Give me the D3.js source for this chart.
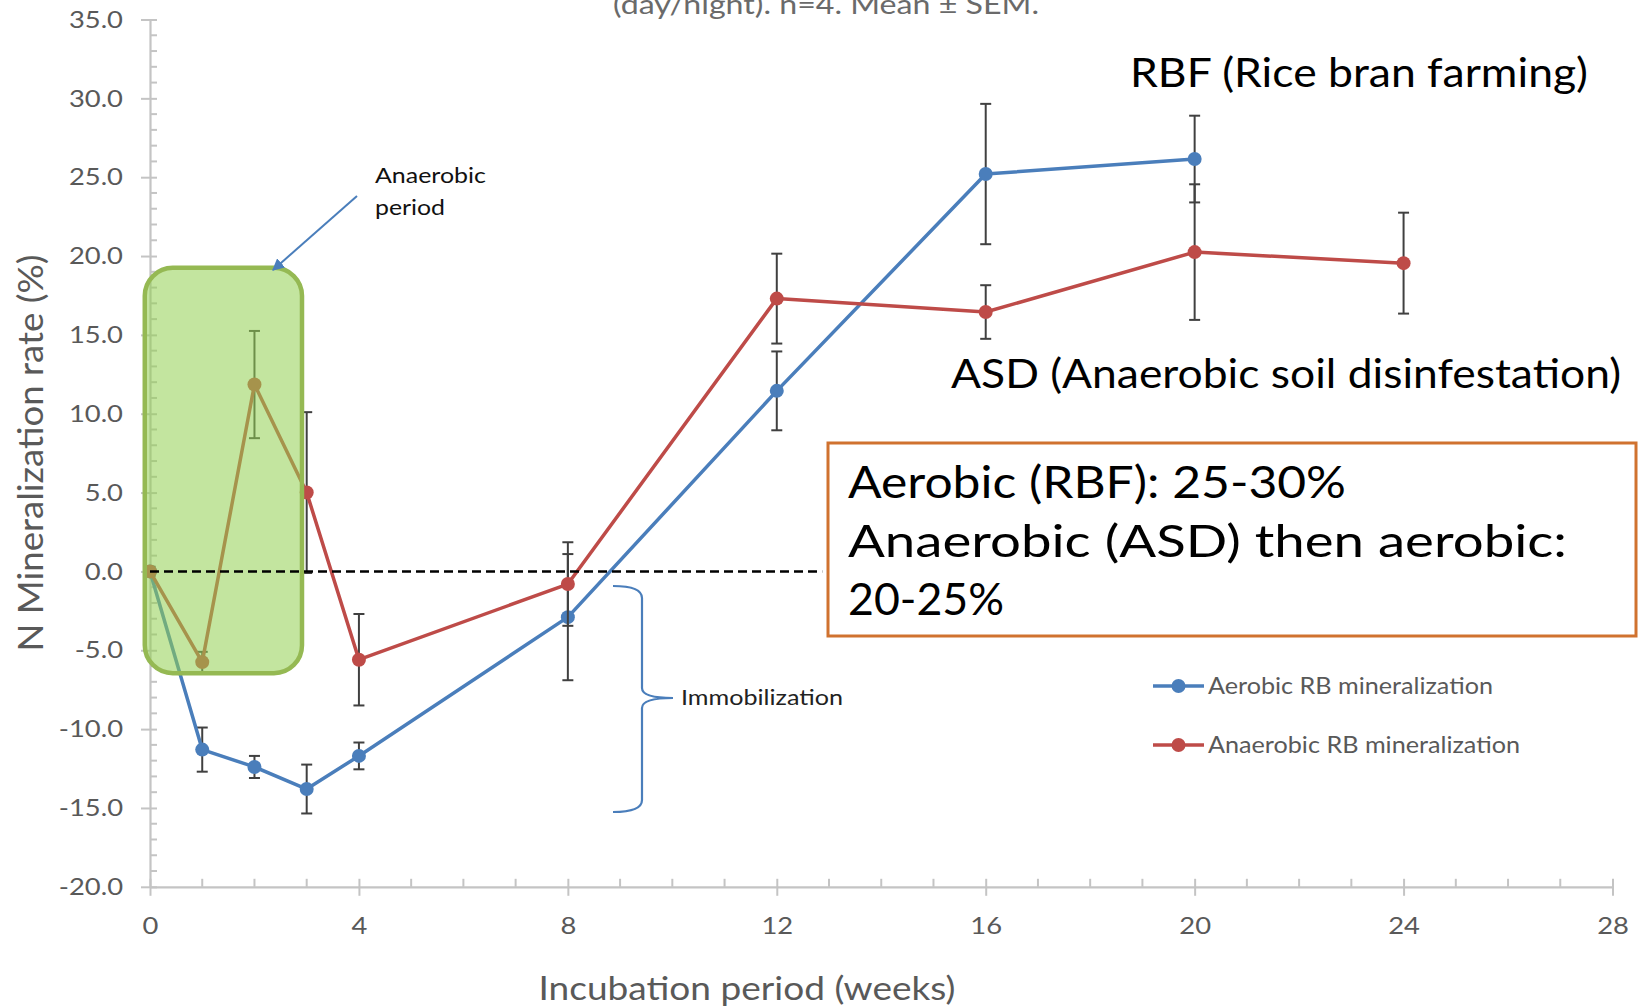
<!DOCTYPE html>
<html>
<head>
<meta charset="utf-8">
<script src="https://cdn.jsdelivr.net/npm/d3@7"></script>
<style>
  html, body { margin: 0; padding: 0; background: #fff; }
  svg { display: block; font-family: Lato, "Open Sans", sans-serif; }
</style>
</head>
<body>
<svg id="chart" width="1644" height="1008"></svg>
<script>
// Incubation weeks and N mineralization means (%) with SEM, n = 4
const aerobicWeeks = [0, 1, 2, 3, 4, 8, 12, 16, 20];
const aerobicMean  = [0, -11.3, -12.4, -13.8, -11.7, -2.9, 11.45, 25.2, 26.15];
const aerobicSem   = [0, 1.4, 0.7, 1.55, 0.85, 4.0, 2.5, 4.45, 2.75];

const anaerobicWeeks = [0, 1, 2, 3, 4, 8, 12, 16, 20, 24];
const anaerobicMean  = [0, -5.75, 11.85, 5.0, -5.6, -0.8, 17.3, 16.45, 20.25, 19.55];
const anaerobicSem   = [0.3, 0.65, 3.4, 5.1, 2.9, 2.65, 2.85, 1.7, 4.3, 3.2];

const yTicks = [-20, -15, -10, -5, 0, 5, 10, 15, 20, 25, 30, 35];
const xTicks = [0, 4, 8, 12, 16, 20, 24, 28];
const seriesNames = ["Aerobic RB mineralization", "Anaerobic RB mineralization"];
const boxLines = ["Aerobic (RBF): 25-30%", "Anaerobic (ASD) then aerobic:", "20-25%"];

const BLUE = "#4a7ebb", RED = "#be4b48", GREY = "#595959", AXIS = "#c4c4c4";
const K = 1.14; // horizontal text stretch

const svg = d3.select("#chart");
const x = d3.scaleLinear().domain([0, 28]).range([150, 1612.5]);
const y = d3.scaleLinear().domain([-20, 35]).range([886.8, 19.5]);

function stretch(sel, k) {
  sel.each(function () {
    const w = this.getComputedTextLength();
    d3.select(this).attr("textLength", w * k).attr("lengthAdjust", "spacingAndGlyphs");
  });
}
function fitTo(sel, w) {
  sel.attr("textLength", w).attr("lengthAdjust", "spacingAndGlyphs");
}

// ---- subtitle line at the top edge ----
svg.append("text").attr("x", 826).attr("y", 14).attr("text-anchor", "middle")
  .attr("font-size", 26).attr("fill", "#6a6a6a")
  .text("(day/night). n=4. Mean \u00b1 SEM.").call(fitTo, 426);

// ---- axes ----
const yAxis = svg.append("g").attr("transform", `translate(${x(0)},0)`)
  .call(d3.axisLeft(y).tickValues(yTicks).tickSize(0).tickPadding(27).tickFormat(d => d.toFixed(1)));
const xAxis = svg.append("g").attr("transform", `translate(0,${y(-20)})`)
  .call(d3.axisBottom(x).tickValues(xTicks).tickSize(0).tickPadding(30).tickFormat(d => String(d)));

[yAxis, xAxis].forEach(a => {
  a.select(".domain").attr("stroke", AXIS).attr("stroke-width", 2.2);
  a.selectAll(".tick text").attr("font-family", "Lato, sans-serif").attr("font-size", 24).attr("fill", GREY);
});
yAxis.selectAll(".tick text").call(stretch, K);
xAxis.selectAll(".tick text").call(stretch, K);
yAxis.selectAll(".tick").append("line").attr("x1", -9).attr("x2", 7).attr("stroke", AXIS).attr("stroke-width", 2);
xAxis.selectAll(".tick").append("line").attr("y1", -8).attr("y2", 9).attr("stroke", AXIS).attr("stroke-width", 2);

// minor ticks
const yMinor = d3.range(-20, 35.01, 1).filter(v => v % 5 !== 0);
const xMinor = d3.range(0, 28.01, 1).filter(v => v % 4 !== 0);
svg.append("g").selectAll("line").data(yMinor).join("line")
  .attr("x1", x(0)).attr("x2", x(0) + 7).attr("y1", d => y(d)).attr("y2", d => y(d))
  .attr("stroke", AXIS).attr("stroke-width", 2);
svg.append("g").selectAll("line").data(xMinor).join("line")
  .attr("x1", d => x(d)).attr("x2", d => x(d)).attr("y1", y(-20) - 8).attr("y2", y(-20))
  .attr("stroke", AXIS).attr("stroke-width", 2);

// axis titles
svg.append("text").attr("transform", "translate(31,453) rotate(-90)")
  .attr("text-anchor", "middle").attr("dy", "0.36em").attr("font-size", 34).attr("fill", GREY)
  .text("N Mineralization rate (%)").call(fitTo, 397);
svg.append("text").attr("x", 747).attr("y", 1000).attr("text-anchor", "middle")
  .attr("font-size", 32).attr("fill", GREY)
  .text("Incubation period (weeks)").call(fitTo, 417);

// ---- series ----
function series(weeks, mean, sem, color) {
  const pts = weeks.map((w, i) => ({ w, m: mean[i], s: sem[i] }));
  const g = svg.append("g");
  const bars = g.append("g").selectAll("g").data(pts.filter(p => p.s > 0)).join("g")
    .attr("stroke", "#404040").attr("stroke-width", 2);
  bars.append("line").attr("x1", d => x(d.w)).attr("x2", d => x(d.w))
    .attr("y1", d => y(d.m + d.s)).attr("y2", d => y(d.m - d.s));
  bars.append("line").attr("x1", d => x(d.w) - 5.5).attr("x2", d => x(d.w) + 5.5)
    .attr("y1", d => y(d.m + d.s)).attr("y2", d => y(d.m + d.s));
  bars.append("line").attr("x1", d => x(d.w) - 5.5).attr("x2", d => x(d.w) + 5.5)
    .attr("y1", d => y(d.m - d.s)).attr("y2", d => y(d.m - d.s));
  g.append("path").datum(pts)
    .attr("d", d3.line().x(d => x(d.w)).y(d => y(d.m)))
    .attr("fill", "none").attr("stroke", color).attr("stroke-width", 3.5)
    .attr("stroke-linejoin", "round");
  g.append("g").selectAll("circle").data(pts).join("circle")
    .attr("cx", d => x(d.w)).attr("cy", d => y(d.m)).attr("r", 7).attr("fill", color);
}
series(aerobicWeeks, aerobicMean, aerobicSem, BLUE);
series(anaerobicWeeks, anaerobicMean, anaerobicSem, RED);

// ---- anaerobic period highlight ----
svg.append("rect")
  .attr("x", x(-0.1)).attr("y", y(19.25))
  .attr("width", x(2.91) - x(-0.1)).attr("height", y(-6.45) - y(19.25))
  .attr("rx", 28).attr("ry", 28)
  .attr("fill", "#92d050").attr("fill-opacity", 0.55)
  .attr("stroke", "#95b953").attr("stroke-width", 4.5);

// zero reference line
svg.append("line").attr("x1", x(0)).attr("x2", x(12.87)).attr("y1", y(0)).attr("y2", y(0))
  .attr("stroke", "#000").attr("stroke-width", 2.5).attr("stroke-dasharray", "9,5");

// arrow to the highlighted period
svg.append("defs").append("marker").attr("id", "ah").attr("viewBox", "0 0 10 10")
  .attr("refX", 9).attr("refY", 5).attr("markerWidth", 6).attr("markerHeight", 6)
  .attr("orient", "auto").attr("markerUnits", "strokeWidth")
  .append("path").attr("d", "M0,0 L10,5 L0,10 z").attr("fill", BLUE);
svg.append("line").attr("x1", 357).attr("y1", 196).attr("x2", 273).attr("y2", 270)
  .attr("stroke", BLUE).attr("stroke-width", 2).attr("marker-end", "url(#ah)");
const ap = svg.append("g").attr("font-size", 22).attr("fill", "#111");
ap.append("text").attr("x", 375).attr("y", 183).text("Anaerobic").call(fitTo, 111);
ap.append("text").attr("x", 375).attr("y", 215).text("period").call(fitTo, 70);

// immobilization brace
svg.append("path")
  .attr("d", "M613,586 Q642,586 642,598 L642,688 Q642,698 673,698 Q642,698 642,708 L642,800 Q642,812 613,812")
  .attr("fill", "none").attr("stroke", BLUE).attr("stroke-width", 2.2);
svg.append("text").attr("x", 681).attr("y", 705).attr("font-size", 22).attr("fill", "#222")
  .text("Immobilization").call(fitTo, 162);

// series labels
svg.append("text").attr("x", 1130).attr("y", 87).attr("font-size", 40).attr("fill", "#000")
  .text("RBF (Rice bran farming)").call(fitTo, 458);
svg.append("text").attr("x", 951).attr("y", 388).attr("font-size", 40).attr("fill", "#000")
  .text("ASD (Anaerobic soil disinfestation)").call(fitTo, 670);

// summary box
svg.append("rect").attr("x", 828).attr("y", 443).attr("width", 808).attr("height", 193)
  .attr("fill", "#fff").attr("stroke", "#d0722f").attr("stroke-width", 3);
const boxWidths = [498, 719, 156];
const boxBase = [498, 557, 615];
svg.append("g").selectAll("text").data(boxLines).join("text")
  .attr("x", 848).attr("y", (d, i) => boxBase[i]).attr("font-size", 44).attr("fill", "#000")
  .text(d => d).each(function (d, i) { d3.select(this).call(fitTo, boxWidths[i]); });

// legend
const legendWidths = [285, 312];
const lg = svg.append("g").selectAll("g").data(seriesNames).join("g")
  .attr("transform", (d, i) => `translate(1153,${686 + i * 59})`);
lg.append("line").attr("x1", 0).attr("x2", 51).attr("stroke", (d, i) => i ? RED : BLUE).attr("stroke-width", 3.5);
lg.append("circle").attr("cx", 25.5).attr("r", 7).attr("fill", (d, i) => i ? RED : BLUE);
lg.append("text").attr("x", 55).attr("dy", "0.35em").attr("font-size", 22.5).attr("fill", GREY)
  .text(d => d).each(function (d, i) { d3.select(this).call(fitTo, legendWidths[i]); });
</script>
</body>
</html>
